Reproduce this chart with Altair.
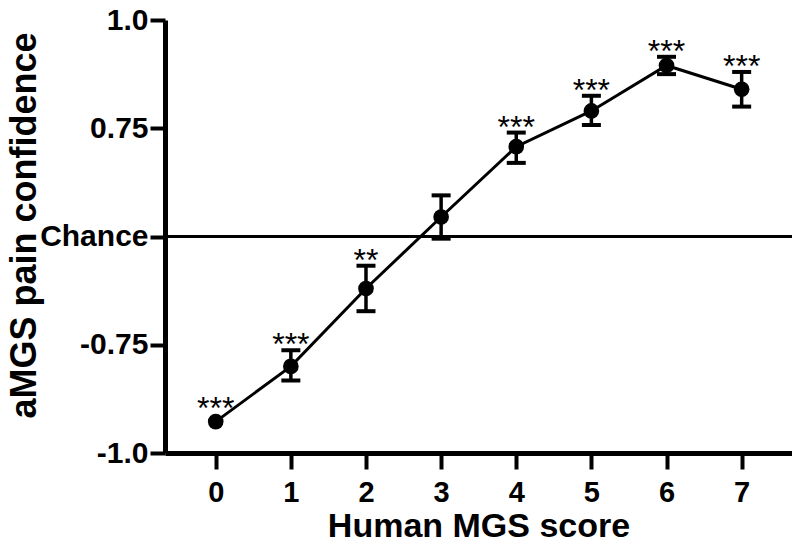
import altair as alt
import pandas as pd

scores = [0, 1, 2, 3, 4, 5, 6, 7]
means = [-1.71, -1.20, -0.48, 0.18, 0.83, 1.16, 1.58, 1.36]
err_lo = [-1.74, -1.33, -0.69, -0.02, 0.68, 1.03, 1.50, 1.20]
err_hi = [-1.64, -1.05, -0.27, 0.38, 0.96, 1.30, 1.66, 1.52]
stars = ["***", "***", "**", "", "***", "***", "***", "***"]

y_tick_values = [-2, -1, 0, 1, 2]
y_tick_labels = ["-1.0", "-0.75", "Chance", "0.75", "1.0"]

df = pd.DataFrame({"score": scores, "mean": means, "lo": err_lo, "hi": err_hi, "stars": stars})

FONT = "Liberation Sans"
label_expr = " : ".join(
    f"datum.value == {v} ? '{l}'" for v, l in zip(y_tick_values, y_tick_labels)
) + " : ''"

x = alt.X("score:Q",
          scale=alt.Scale(domain=[-0.675, 7.67], nice=False, zero=False),
          axis=alt.Axis(values=scores, format="d", title="Human MGS score", grid=False,
                        domainWidth=5, domainColor="black", tickWidth=4, tickColor="black",
                        tickSize=16, labelFontSize=29, labelFontWeight="bold", labelColor="black",
                        labelFont=FONT, labelPadding=9, titleFont=FONT, titleFontSize=34,
                        titleFontWeight="bold", titleColor="black", titlePadding=2))
y_axis = alt.Axis(values=y_tick_values, labelExpr=label_expr, title="aMGS pain confidence",
                  grid=False, domainWidth=5, domainColor="black", tickWidth=4, tickColor="black",
                  tickSize=15, labelFontSize=30, labelFontWeight="bold", labelColor="black",
                  labelFont=FONT, labelPadding=2, titleFont=FONT, titleFontSize=36,
                  titleFontWeight="bold", titleColor="black", titleBaseline="alphabetic",
                  titleAlign="center", titleX=-130, titleY=205)
yscale = alt.Scale(domain=[-2, 2], nice=False, zero=False)

base = alt.Chart(df)
# error bars shorter than the symbol are hidden, as in the source figure
errs = base.transform_filter("datum.hi - datum.lo > 0.15")

chance = alt.Chart(pd.DataFrame({"c": [0]})).mark_rule(color="black", strokeWidth=3).encode(
    y=alt.Y("c:Q", scale=yscale, axis=y_axis)
)
line = base.mark_line(color="black", strokeWidth=3).encode(
    x=x, y=alt.Y("mean:Q", scale=yscale, axis=y_axis)
)
bars = errs.mark_rule(color="black", strokeWidth=3.5, opacity=1).encode(
    x="score:Q", y="lo:Q", y2="hi:Q"
)
cap_lo = errs.mark_tick(color="black", orient="horizontal", size=19, thickness=4, opacity=1).encode(
    x="score:Q", y="lo:Q"
)
cap_hi = errs.mark_tick(color="black", orient="horizontal", size=19, thickness=4, opacity=1).encode(
    x="score:Q", y="hi:Q"
)
pts = base.mark_circle(color="black", size=245, opacity=1).encode(
    x="score:Q", y="mean:Q"
)
txt = base.mark_text(color="black", font=FONT, fontSize=32, baseline="alphabetic", dy=5).encode(
    x="score:Q", y="hi:Q", text="stars:N"
)

chart = alt.layer(chance, line, bars, cap_lo, cap_hi, pts, txt).properties(
    width=627, height=433,
    autosize=alt.AutoSizeParams(type="none"),
    padding={"left": 157, "top": 12, "right": 0, "bottom": 90},
).configure_view(stroke=None)

chart.save("out.html", embed_options={"renderer": "svg", "actions": False})
